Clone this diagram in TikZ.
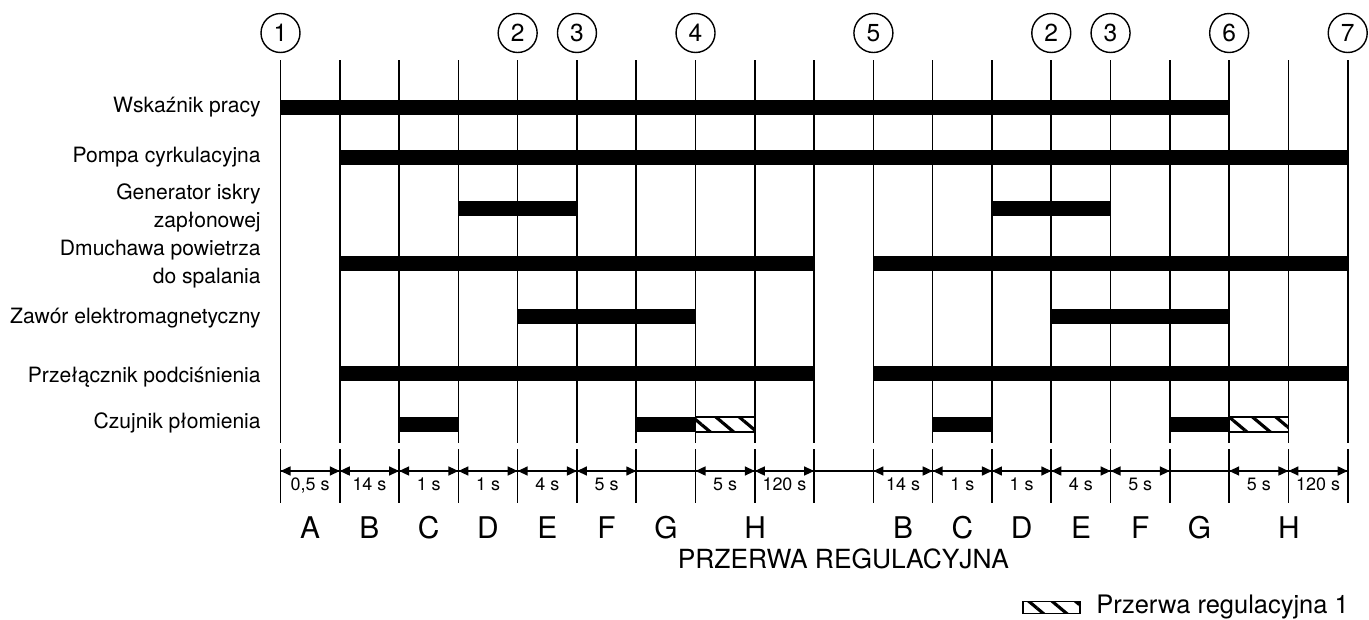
\documentclass[tikz,border=0pt]{standalone}
\usepackage{fontspec}
\setmainfont{TeX Gyre Heros}
\usetikzlibrary{
    arrows.meta,
    positioning,
    patterns.meta,
    calc
}

\begin{document}
\begin{tikzpicture}[
    x=0.02cm, y=-0.02cm,
    grid/.style={
        line width=0.9pt
    },
    bar/.style={
        line width=0.3cm
    },
    hatchbar/.style={
        draw,
        line width=0.6pt,
        pattern={Lines[angle=-40, distance=0.3cm, line width=1.8pt]}
    },
    marker/.style={
        circle,
        draw,
        line width=0.8pt,
        minimum size=0.78cm,
        inner sep=0pt,
        font=\fontsize{14}{16}\selectfont
    },
    rowlabel/.style={
        anchor=east,
        align=right,
        inner sep=0pt,
        font=\fontsize{12}{15.8}\selectfont
    },
    dimarrow/.style={
        {Triangle[length=2mm, width=1.8mm]}-{Triangle[length=2mm, width=1.8mm]},
        line width=0.9pt
    },
    dimlabel/.style={
        anchor=base,
        yshift=-0.38cm,
        inner sep=0pt,
        font=\fontsize{10.2}{12}\selectfont
    },
    phase/.style={
        anchor=base,
        inner sep=0pt,
        font=\fontsize{17}{20}\selectfont
    }
]
\useasboundingbox (0,0) rectangle (1369,619);

% Wiersze
\coordinate (top) at (0,33);
\coordinate (wsk) at (0,107);
\coordinate (pompa) at (0,157);
\coordinate (iskra) at (0,208.5);
\coordinate (dmuch) at (0,263);
\coordinate (zawor) at (0,316);
\coordinate (przel) at (0,373);
\coordinate (czuj) at (0,424.5);
\coordinate (dim) at (0,471);

% Siatka czasu
\foreach \i in {0,...,18} {
    \coordinate (t\i) at (280.5+59.29*\i,60);
    \draw[grid] (t\i) -- ++(0,383);
    \draw[grid] ($(t\i)+(0,389)$) -- ++(0,54);
}

% Punkty
\node[marker] (m1) at (t0 |- top) {1};
\node[marker] (m2) at (t4 |- top) {2};
\node[marker] (m3) at (t5 |- top) {3};
\node[marker] (m4) at (t7 |- top) {4};
\node[marker] (m5) at (t10 |- top) {5};
\node[marker] (m2b) at (t13 |- top) {2};
\node[marker] (m3b) at (t14 |- top) {3};
\node[marker] (m6) at (t16 |- top) {6};
\node[marker] (m7) at (t18 |- top) {7};

% Opisy wierszy
\node[rowlabel] (lwsk) at (261,107) {Wskaźnik pracy};
\node[rowlabel] (lpompa) at (261,157) {Pompa cyrkulacyjna};
\node[rowlabel] (liskra) at (261,208) {Generator iskry\\zapłonowej};
\node[rowlabel] (ldmuch) at (261,264) {Dmuchawa powietrza\\do spalania};
\node[rowlabel] (lzawor) at (261,318) {Zawór elektromagnetyczny};
\node[rowlabel] (lprzel) at (261,377) {Przełącznik podciśnienia};
\node[rowlabel] (lczuj) at (261,423) {Czujnik płomienia};

% Paski stanu
\draw[bar] (t0 |- wsk) -- (t16 |- wsk);
\draw[bar] (t1 |- pompa) -- (t18 |- pompa);
\draw[bar] (t3 |- iskra) -- (t5 |- iskra);
\draw[bar] (t12 |- iskra) -- (t14 |- iskra);
\draw[bar] (t1 |- dmuch) -- (t9 |- dmuch);
\draw[bar] (t10 |- dmuch) -- (t18 |- dmuch);
\draw[bar] (t4 |- zawor) -- (t7 |- zawor);
\draw[bar] (t13 |- zawor) -- (t16 |- zawor);
\draw[bar] (t1 |- przel) -- (t9 |- przel);
\draw[bar] (t10 |- przel) -- (t18 |- przel);
\draw[bar] (t2 |- czuj) -- (t3 |- czuj);
\draw[bar] (t6 |- czuj) -- (t7 |- czuj);
\draw[bar] (t11 |- czuj) -- (t12 |- czuj);
\draw[bar] (t15 |- czuj) -- (t16 |- czuj);
\draw[hatchbar] ($(t7 |- czuj)+(0,-7.5)$) rectangle ($(t8 |- czuj)+(0,7.5)$);
\draw[hatchbar] ($(t16 |- czuj)+(0,-7.5)$) rectangle ($(t17 |- czuj)+(0,7.5)$);

% Czasy
\draw[grid] (t0 |- dim) -- (t18 |- dim);
\draw[dimarrow] (t0 |- dim) -- node[dimlabel]{0,5 s} (t1 |- dim);
\draw[dimarrow] (t1 |- dim) -- node[dimlabel]{14 s} (t2 |- dim);
\draw[dimarrow] (t2 |- dim) -- node[dimlabel]{1 s} (t3 |- dim);
\draw[dimarrow] (t3 |- dim) -- node[dimlabel]{1 s} (t4 |- dim);
\draw[dimarrow] (t4 |- dim) -- node[dimlabel]{4 s} (t5 |- dim);
\draw[dimarrow] (t5 |- dim) -- node[dimlabel]{5 s} (t6 |- dim);
\draw[dimarrow] (t7 |- dim) -- node[dimlabel]{5 s} (t8 |- dim);
\draw[dimarrow] (t8 |- dim) -- node[dimlabel]{120 s} (t9 |- dim);
\draw[dimarrow] (t10 |- dim) -- node[dimlabel]{14 s} (t11 |- dim);
\draw[dimarrow] (t11 |- dim) -- node[dimlabel]{1 s} (t12 |- dim);
\draw[dimarrow] (t12 |- dim) -- node[dimlabel]{1 s} (t13 |- dim);
\draw[dimarrow] (t13 |- dim) -- node[dimlabel]{4 s} (t14 |- dim);
\draw[dimarrow] (t14 |- dim) -- node[dimlabel]{5 s} (t15 |- dim);
\draw[dimarrow] (t16 |- dim) -- node[dimlabel]{5 s} (t17 |- dim);
\draw[dimarrow] (t17 |- dim) -- node[dimlabel]{120 s} (t18 |- dim);

% Fazy
\node[phase] (pA) at (310.1,538) {A};
\node[phase] (pB) at (369.4,538) {B};
\node[phase] (pC) at (428.7,538) {C};
\node[phase] (pD) at (488,538) {D};
\node[phase] (pE) at (547.3,538) {E};
\node[phase] (pF) at (606.6,538) {F};
\node[phase] (pG) at (665.9,538) {G};
\node[phase] (pH) at (755.2,538) {H};
\node[phase] (pB2) at (903.1,538) {B};
\node[phase] (pC2) at (962.4,538) {C};
\node[phase] (pD2) at (1021.7,538) {D};
\node[phase] (pE2) at (1081,538) {E};
\node[phase] (pF2) at (1140.3,538) {F};
\node[phase] (pG2) at (1199.6,538) {G};
\node[phase] (pH2) at (1288.9,538) {H};
\node[anchor=base, inner sep=0pt, font=\fontsize{15}{18}\selectfont] (przerwa) at (843.4,568) {PRZERWA REGULACYJNA};

% Legenda
\node[hatchbar, minimum width=1.14cm, minimum height=0.23cm, inner sep=0pt] (key) at (1051.5,607.5) {};
\node[anchor=base west, inner sep=0pt, font=\fontsize{14.5}{17}\selectfont] (keytext) at (1096,613) {Przerwa regulacyjna 1};

\end{tikzpicture}
\end{document}
